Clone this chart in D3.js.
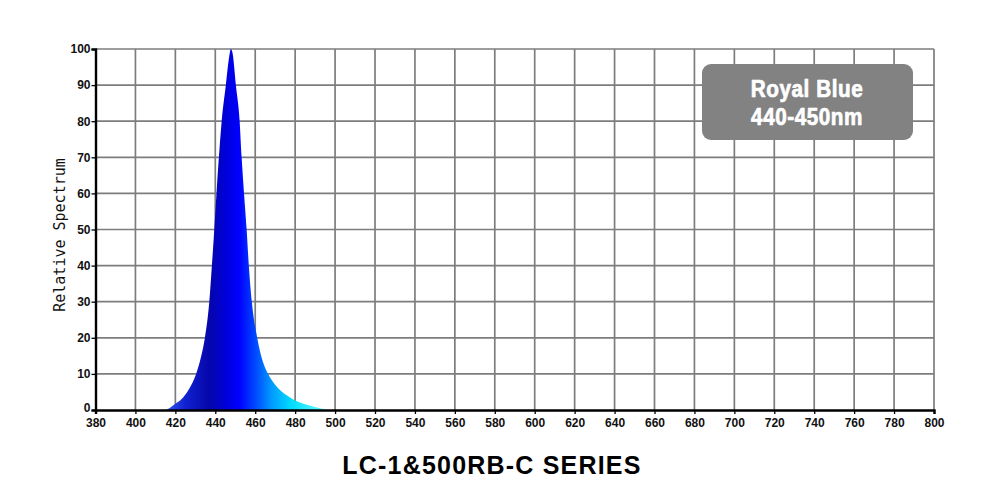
<!DOCTYPE html>
<html><head><meta charset="utf-8">
<script src="https://cdn.jsdelivr.net/npm/d3@7"></script>
<style>body{margin:0;background:#fff}svg{display:block}</style>
</head><body>
<svg id="c" width="1000" height="500"></svg>
<script>
const wavelengths = [415,417,420,423,426.5,428.5,430.4,433,434.8,437,438.3,439.5,440.6,441.8,443.2,445.3,447,447.8,448.6,450.3,452.2,453.2,454.4,455.7,456.8,458.3,461,463.5,466.5,470,472.5,476,480,485.5,490,495,498];
const values      = [0,0.5,1.7,3,5.5,7.5,10,15,20,30,40,50,60,70,80,90,98,100,99,90,80,70,60,50,40,30,20,14,10,7,5.5,4,2.6,1.5,0.8,0.2,0];
const xTicks = d3.range(380, 801, 20);
const yTicks = d3.range(0, 101, 10);
const gradStops = [[415,"#3058f0"],[425,"#1022d0"],[437,"#0606aa"],[445,"#0000d8"],[452,"#0000ff"],[460,"#0048ff"],[468,"#0098ff"],[478,"#00dcff"],[496,"#70ffff"]];
const labelLines = ["Royal Blue","440-450nm"];
const title = "LC-1&500RB-C SERIES";
const yTitle = "Relative Spectrum";

const svg = d3.select("#c");
const x = d3.scaleLinear().domain([380,800]).range([95.5,934]);
const y = d3.scaleLinear().domain([0,100]).range([410,49]);

// grid
const g = svg.append("g");
g.selectAll("line.v").data(xTicks.slice(1)).join("line")
  .attr("x1",d=>x(d)).attr("x2",d=>x(d)).attr("y1",y(100)).attr("y2",y(0))
  .attr("stroke","#7d7d7d").attr("stroke-width",1.7);
g.selectAll("line.h").data(yTicks.slice(1)).join("line")
  .attr("x1",x(380)).attr("x2",x(800)).attr("y1",d=>y(d)).attr("y2",d=>y(d))
  .attr("stroke","#7d7d7d").attr("stroke-width",1.7);

// gradient
const defs = svg.append("defs");
const lg = defs.append("linearGradient").attr("id","spec").attr("gradientUnits","userSpaceOnUse")
  .attr("x1",x(415)).attr("x2",x(496)).attr("y1",0).attr("y2",0);
gradStops.forEach(([w,c])=>lg.append("stop").attr("offset",(w-415)/(496-415)).attr("stop-color",c));

const pts = wavelengths.map((w,i)=>[w,values[i]]);
const area = d3.area().x(d=>x(d[0])).y0(y(0)).y1(d=>y(d[1])).curve(d3.curveMonotoneX);
svg.append("path").datum(pts).attr("d",area).attr("fill","url(#spec)");

// axes
const xa = svg.append("g").attr("transform",`translate(0,${y(0)})`)
  .call(d3.axisBottom(x).tickValues(xTicks).tickSize(4).tickPadding(4).tickFormat(d3.format("d")));
const ya = svg.append("g").attr("transform",`translate(${x(380)},0)`)
  .call(d3.axisLeft(y).tickValues(yTicks).tickSize(4).tickPadding(1).tickFormat(d3.format("d")));
[xa,ya].forEach(a=>{
  a.select(".domain").attr("stroke","#000").attr("stroke-width",2.4);
  a.selectAll(".tick line").attr("stroke","#000").attr("stroke-width",1.3);
  a.selectAll("text").attr("font-family","Arial, 'Liberation Sans', sans-serif").attr("font-weight","bold").attr("font-size",12).attr("fill","#111");
});
ya.selectAll(".tick text").filter(d=>d===0).attr("dy","0.1em");

// y title
svg.append("text").attr("transform","translate(65,235) rotate(-90)")
  .attr("text-anchor","middle").attr("font-family","'DejaVu Sans Mono', monospace")
  .attr("font-size",15).attr("fill","#111").text(yTitle);

// label box
svg.append("rect").attr("x",702).attr("y",64).attr("width",211).attr("height",76).attr("rx",9)
  .attr("fill","#828282");
svg.selectAll("text.lbl").data(labelLines).join("text")
  .attr("transform",(d,i)=>`translate(807,${97+i*28}) scale(0.9,1)`).attr("text-anchor","middle")
  .attr("font-family","Arial, 'Liberation Sans', sans-serif")
  .attr("font-weight","bold").attr("font-size",23).attr("letter-spacing",0.6)
  .attr("fill","#fff").attr("stroke","#fff").attr("stroke-width",0.7).text(d=>d);

// title
svg.append("text").attr("x",492).attr("y",474).attr("text-anchor","middle")
  .attr("font-family","Arial, 'Liberation Sans', sans-serif").attr("font-weight","bold")
  .attr("font-size",25).attr("letter-spacing",1.2).attr("fill","#000").text(title);
</script>
</body></html>
